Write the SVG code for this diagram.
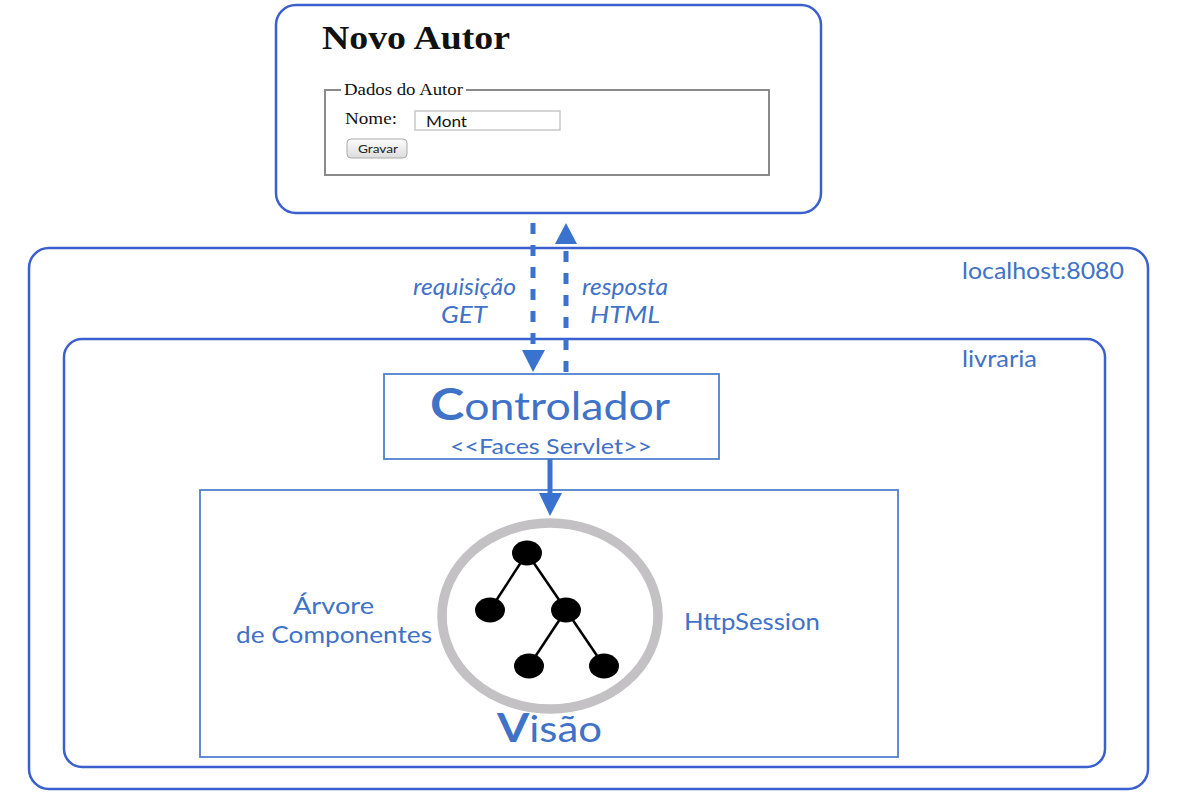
<svg xmlns="http://www.w3.org/2000/svg" width="1180" height="803" viewBox="0 0 1180 803">
<defs>
<style>
.box{fill:none;stroke:#3b5fcf;stroke-width:2.5}
.sq{fill:none;stroke:#4f80cf;stroke-width:1.8}
.bt{font-family:Lato,"Open Sans",sans-serif;fill:#4072c8}
.it{font-family:Lato,"Open Sans",sans-serif;fill:#4072c8;font-style:italic;font-size:23px}
.sr{font-family:"Liberation Serif",serif;fill:#111}
.dash{stroke:#3a72d0;stroke-width:5;stroke-dasharray:11 11;fill:none}
.solid{stroke:#3a72d0;stroke-width:5;fill:none}
.ah{fill:#3a72d0}
.edge{stroke:#000;stroke-width:2.5}
.nd{fill:#000}
</style>
<linearGradient id="btn" x1="0" y1="0" x2="0" y2="1">
<stop offset="0" stop-color="#fdfdfd"/>
<stop offset="1" stop-color="#dcdcdc"/>
</linearGradient>
</defs>

<g id="browser">
<rect class="box" x="276" y="5" width="545" height="208" rx="20"/>
<text class="sr" x="322" y="49" font-size="33" font-weight="bold" textLength="188" lengthAdjust="spacingAndGlyphs">Novo Autor</text>
<path d="M341 90 H325 V175 H769 V90 H466" fill="none" stroke="#8a8a8a" stroke-width="2"/>
<text class="sr" x="344" y="95" font-size="16.5" textLength="119" lengthAdjust="spacingAndGlyphs">Dados do Autor</text>
<text class="sr" x="345" y="124" font-size="16.5" textLength="52" lengthAdjust="spacingAndGlyphs">Nome:</text>
<rect x="415" y="111" width="145" height="19" fill="#fff" stroke="#c8c8c8" stroke-width="1.5"/>
<text x="426" y="127" font-family="Lato,'Open Sans',sans-serif" font-size="15" fill="#111" textLength="41" lengthAdjust="spacingAndGlyphs">Mont</text>
<rect x="347" y="139" width="60" height="19" rx="4" fill="url(#btn)" stroke="#aaa" stroke-width="1"/>
<text x="358" y="153" font-family="Lato,'Open Sans',sans-serif" font-size="12" fill="#222" textLength="40" lengthAdjust="spacingAndGlyphs">Gravar</text>
</g>

<g id="localhost">
<rect class="box" x="29" y="248" width="1119" height="541" rx="20"/>
<text class="bt" x="962" y="279" font-size="23" textLength="162" lengthAdjust="spacingAndGlyphs">localhost:8080</text>
</g>

<g id="livraria">
<rect class="box" x="64" y="339" width="1041" height="428" rx="18"/>
<text class="bt" x="962" y="367" font-size="23" textLength="75" lengthAdjust="spacingAndGlyphs">livraria</text>
</g>

<g id="controlador">
<rect class="sq" x="384" y="374" width="335" height="85" fill="#fff"/>
<text class="bt" x="430" y="420" font-size="38" textLength="240" lengthAdjust="spacingAndGlyphs"><tspan font-weight="bold" font-size="44">C</tspan>ontrolador</text>
<text class="bt" x="450" y="454" font-size="22" textLength="202" lengthAdjust="spacingAndGlyphs">&lt;&lt;Faces Servlet&gt;&gt;</text>
</g>

<g id="visao">
<rect class="sq" x="200" y="490" width="698" height="267"/>
<ellipse cx="550" cy="616" rx="108" ry="93" fill="none" stroke="#c3c1c3" stroke-width="9.5"/>
<line class="edge" x1="527" y1="553" x2="490" y2="610"/>
<line class="edge" x1="527" y1="553" x2="566" y2="610"/>
<line class="edge" x1="566" y1="610" x2="529" y2="666"/>
<line class="edge" x1="566" y1="610" x2="604" y2="666"/>
<ellipse class="nd" cx="527" cy="553" rx="15" ry="12.5"/>
<ellipse class="nd" cx="490" cy="610" rx="15" ry="12.5"/>
<ellipse class="nd" cx="566" cy="610" rx="15" ry="12.5"/>
<ellipse class="nd" cx="529" cy="666" rx="15" ry="12.5"/>
<ellipse class="nd" cx="604" cy="666" rx="15" ry="12.5"/>
<text class="bt" x="293" y="614" font-size="24" textLength="81" lengthAdjust="spacingAndGlyphs">Árvore</text>
<text class="bt" x="236" y="643" font-size="24" textLength="196" lengthAdjust="spacingAndGlyphs">de Componentes</text>
<text class="bt" x="684" y="630" font-size="24" textLength="136" lengthAdjust="spacingAndGlyphs">HttpSession</text>
<text class="bt" x="497" y="742" font-size="36" textLength="105" lengthAdjust="spacingAndGlyphs"><tspan font-weight="bold" font-size="40">V</tspan>isão</text>
</g>

<g id="connectors">
<line class="dash" x1="533" y1="223" x2="533" y2="352"/>
<polygon class="ah" points="522,350 545,350 533,372"/>
<text class="it" x="413" y="295" textLength="103" lengthAdjust="spacingAndGlyphs">requisição</text>
<text class="it" x="441" y="323" textLength="46" lengthAdjust="spacingAndGlyphs">GET</text>
<line class="dash" x1="566" y1="372" x2="566" y2="243"/>
<polygon class="ah" points="555,244 577,244 566,223"/>
<text class="it" x="582" y="295" textLength="86" lengthAdjust="spacingAndGlyphs">resposta</text>
<text class="it" x="590" y="323" textLength="70" lengthAdjust="spacingAndGlyphs">HTML</text>
<line class="solid" x1="550" y1="459" x2="550" y2="496"/>
<polygon class="ah" points="539,493 562,493 550,516"/>
</g>
</svg>
